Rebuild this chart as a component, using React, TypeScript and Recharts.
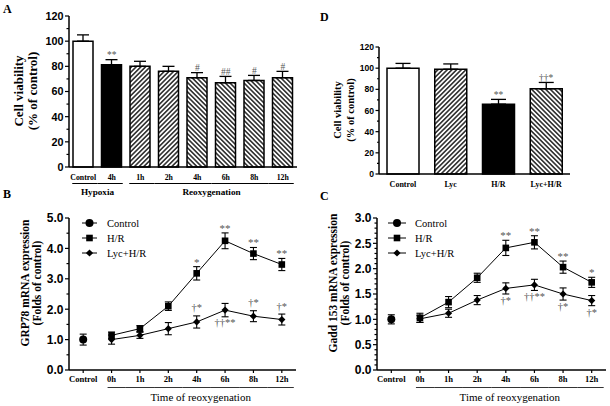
import React from 'react';
import { ComposedChart, Bar, Line, XAxis, YAxis, ErrorBar, Cell, LabelList } from 'recharts';

// ---------- Panel A data ----------
const aKeys = ['ctrl', 'hyp4h', 're1h', 're2h', 're4h', 're6h', 're8h', 're12h'];
const aTickLabels = ['Control', '4h', '1h', '2h', '4h', '6h', '8h', '12h'];
const aGroupOf = [0, 0, 1, 1, 1, 1, 1, 1];
const aGroupNames = ['Hypoxia', 'Reoxygenation'];
const aValues = [100, 81.3, 80, 76, 71, 67, 68.8, 71];
const aErrors = [5, 4, 4, 4, 4, 5, 4, 5];
const aMarks = ['', '**', '', '', '#', '##', '#', '#'];
const aMajorTicks = [0, 20, 40, 60, 80, 100, 120];
const aMinorTicks = [10, 30, 50, 70, 90, 110];

// ---------- Panel D data ----------
const dCategories = ['Control', 'Lyc', 'H/R', 'Lyc+H/R'];
const dValues = [100, 99, 66, 80.5];
const dErrors = [4.5, 5, 4.5, 6];
const dMarks = ['', '', '**', '††*'];
const dMajorTicks = [0, 20, 40, 60, 80, 100, 120];
const dMinorTicks = [10, 30, 50, 70, 90, 110];

// ---------- Panels B & C shared ----------
const timeCategories = ['Control', '0h', '1h', '2h', '4h', '6h', '8h', '12h'];
const timeGroupTitle = 'Time of reoxygenation';
const legendNames = ['Control', 'H/R', 'Lyc+H/R'];

// ---------- Panel B data (GRP78) ----------
const bControlValue = 1.0;
const bControlError = 0.18;
const bHR = [null, 1.14, 1.36, 2.1, 3.18, 4.25, 3.83, 3.47];
const bHRErr = [null, 0.11, 0.1, 0.14, 0.22, 0.26, 0.2, 0.2];
const bLyc = [null, 1.0, 1.14, 1.36, 1.58, 1.97, 1.77, 1.66];
const bLycErr = [null, 0.15, 0.1, 0.2, 0.2, 0.22, 0.18, 0.18];
const bHRMarks = ['', '', '', '', '*', '**', '**', '**'];
const bLycMarksAbove = ['', '', '', '', '†*', '', '†*', '†*'];
const bLycMarksBelow = ['', '', '', '', '', '††**', '', ''];
const bMajorTicks = [0, 1, 2, 3, 4, 5];
const bMinorTicks = [0.5, 1.5, 2.5, 3.5, 4.5];

// ---------- Panel C data (Gadd 153) ----------
const cControlValue = 1.0;
const cControlError = 0.09;
const cHR = [null, 1.03, 1.34, 1.82, 2.41, 2.52, 2.03, 1.73];
const cHRErr = [null, 0.09, 0.11, 0.09, 0.15, 0.13, 0.12, 0.1];
const cLyc = [null, 1.01, 1.12, 1.38, 1.61, 1.68, 1.5, 1.37];
const cLycErr = [null, 0.07, 0.08, 0.09, 0.11, 0.11, 0.12, 0.1];
const cHRMarks = ['', '', '', '', '**', '**', '**', '*'];
const cLycMarksAbove = ['', '', '', '', '', '', '', ''];
const cLycMarksBelow = ['', '', '', '', '†*', '††**', '†*', '†*'];
const cMajorTicks = [0, 0.5, 1, 1.5, 2, 2.5, 3];
const cMinorTicks = [0.1, 0.2, 0.3, 0.4, 0.6, 0.7, 0.8, 0.9, 1.1, 1.2, 1.3, 1.4, 1.6, 1.7, 1.8, 1.9, 2.1, 2.2, 2.3, 2.4, 2.6, 2.7, 2.8, 2.9];

// ---------- styles ----------
const SERIF = '"Liberation Serif","Times New Roman",serif';
const SANS = '"Liberation Sans",Arial,sans-serif';
const MARK_COLOR = '#555';
const aBarFills = ['#fff', '#000', 'url(#hatchUpA)', 'url(#hatchUpA)', 'url(#hatchDownA)', 'url(#hatchDownA)', 'url(#hatchDownA)', 'url(#hatchDownA)'];
const dBarFills = ['#fff', 'url(#hatchUpD)', '#000', 'url(#hatchDownD)'];
const axisLineStyle = { stroke: '#000', strokeWidth: 1.5 };

// ---------- rows ----------
const aRows = aKeys.map((k, i) => ({ key: k, value: aValues[i], err: [0, aErrors[i]], top: aValues[i] + aErrors[i], mark: aMarks[i] }));
const dRows = dCategories.map((k, i) => ({ key: k, value: dValues[i], err: [0, dErrors[i]], top: dValues[i] + dErrors[i], mark: dMarks[i] }));

function buildTimeRows(ctrl: number, ctrlErr: number, hr: (number | null)[], hrErr: (number | null)[], lyc: (number | null)[], lycErr: (number | null)[], hrMarks: string[], lycAbove: string[], lycBelow: string[]) {
  return timeCategories.map((c, i) => ({
    key: c,
    control: i === 0 ? ctrl : null,
    controlErr: i === 0 ? ctrlErr : null,
    hr: hr[i],
    hrErr: hrErr[i],
    hrTop: hr[i] == null ? null : (hr[i] as number) + (hrErr[i] as number),
    hrMark: hrMarks[i],
    lyc: lyc[i],
    lycErr: lycErr[i],
    lycTop: lyc[i] == null ? null : (lyc[i] as number) + (lycErr[i] as number),
    lycBottom: lyc[i] == null ? null : (lyc[i] as number) - (lycErr[i] as number),
    lycAbove: lycAbove[i],
    lycBelow: lycBelow[i],
  }));
}
const bRows = buildTimeRows(bControlValue, bControlError, bHR, bHRErr, bLyc, bLycErr, bHRMarks, bLycMarksAbove, bLycMarksBelow);
const cRows = buildTimeRows(cControlValue, cControlError, cHR, cHRErr, cLyc, cLycErr, cHRMarks, cLycMarksAbove, cLycMarksBelow);

// ---------- helpers ----------
function makeYTick(majors: number[], fmt: (v: number) => string, fs: number, majorLen: number, minorLen: number) {
  return (props: any) => {
    const { x, y, payload } = props;
    const v = payload.value;
    const major = majors.includes(v);
    const len = major ? majorLen : minorLen;
    return (
      <g>
        <line x1={x} x2={x - len} y1={y} y2={y} stroke="#000" strokeWidth={1.2} />
        {major && (
          <text x={x - majorLen - 1.5} y={y} dy="0.36em" textAnchor="end" fontFamily={SANS} fontWeight="bold" fontSize={fs} fill="#000">
            {fmt(v)}
          </text>
        )}
      </g>
    );
  };
}

function markLabel(fs: number, dy: number) {
  return (props: any) => {
    const { x, y, value, index } = props;
    if (!value || y == null || x == null) return null;
    return (
      <text key={index} x={x} y={y + dy} textAnchor="middle" fontFamily={SERIF} fontSize={fs} fill={MARK_COLOR}>
        {value}
      </text>
    );
  };
}

function hatch(id: string, angle: number, size: number, sw: number) {
  return (
    <pattern id={id} patternUnits="userSpaceOnUse" width={size} height={size} patternTransform={`rotate(${angle})`}>
      <rect width={size} height={size} fill="#fff" />
      <line x1={size / 2} y1={0} x2={size / 2} y2={size} stroke="#000" strokeWidth={sw} />
    </pattern>
  );
}

function drawMarker(kind: number, cx: number, cy: number, key?: any) {
  if (kind === 0) return <circle key={key} cx={cx} cy={cy} r={4} fill="#000" />;
  if (kind === 1) return <rect key={key} x={cx - 3.3} y={cy - 3.3} width={6.6} height={6.6} fill="#000" />;
  return <path key={key} d={`M${cx},${cy - 3.6}L${cx + 3.6},${cy}L${cx},${cy + 3.6}L${cx - 3.6},${cy}Z`} fill="#000" />;
}
function dotRenderer(kind: number) {
  return (props: any) => {
    const { cx, cy, index } = props;
    if (cx == null || cy == null || props.value == null) return <g key={`e${index}`} />;
    return drawMarker(kind, cx, cy, `d${index}`);
  };
}

// ---------- Panel A ----------
const A_W = 300, A_H = 200, A_YW = 69, A_R = 3;
const A_BAND = (A_W - A_YW - A_R) / aKeys.length;

function aXTick(props: any) {
  const { x, y, index } = props;
  const g = aGroupOf[index];
  const first = index === 0 || aGroupOf[index - 1] !== g;
  const last = index === aGroupOf.length - 1 || aGroupOf[index + 1] !== g;
  const half = A_BAND / 2;
  const x1 = first ? x - 11 : x - half;
  const x2 = last ? x + 11 : x + half;
  const count = aGroupOf.filter((v) => v === g).length;
  return (
    <g>
      <text x={x} y={y + 13} textAnchor="middle" fontFamily={SERIF} fontWeight="bold" fontSize={7.8} fill="#000">
        {aTickLabels[index]}
      </text>
      <line x1={x1} x2={x2} y1={y + 16.5} y2={y + 16.5} stroke="#000" strokeWidth={1} />
      {first && (
        <text x={x + ((count - 1) * A_BAND) / 2} y={y + 28} textAnchor="middle" fontFamily={SERIF} fontWeight="bold" fontSize={9.2} fill="#000">
          {aGroupNames[g]}
        </text>
      )}
    </g>
  );
}

function PanelA() {
  return (
    <ComposedChart width={A_W} height={A_H} data={aRows} margin={{ top: 16, right: A_R, bottom: 0, left: 0 }}>
      <defs>
        {hatch('hatchUpA', 45, 3.3, 1.3)}
        {hatch('hatchDownA', -45, 3.3, 1.3)}
      </defs>
      <XAxis dataKey="key" type="category" scale="band" interval={0} tickLine={false} tickSize={0} tickMargin={0} height={33} axisLine={axisLineStyle} tick={aXTick} />
      <YAxis type="number" domain={[0, 120]} ticks={[...aMajorTicks, ...aMinorTicks].sort((p, q) => p - q)} interval={0} tickLine={false} tickSize={0} tickMargin={0} width={A_YW} axisLine={axisLineStyle} tick={makeYTick(aMajorTicks, (v) => String(v), 10.8, 4, 2.5)} />
      <Bar dataKey="value" barSize={20} stroke="#000" strokeWidth={1.5} isAnimationActive={false}>
        {aRows.map((r, i) => (
          <Cell key={r.key} fill={aBarFills[i]} />
        ))}
        <ErrorBar dataKey="err" width={6} stroke="#000" strokeWidth={1.3} direction="y" />
      </Bar>
      <Line dataKey="top" stroke="none" dot={false} activeDot={false} isAnimationActive={false} legendType="none">
        <LabelList dataKey="mark" content={markLabel(9.5, -1.5)} />
      </Line>
    </ComposedChart>
  );
}

// ---------- Panel D ----------
function dXTick(props: any) {
  const { x, y, index } = props;
  return (
    <text x={x} y={y + 12.5} textAnchor="middle" fontFamily={SERIF} fontWeight="bold" fontSize={8} fill="#000">
      {dCategories[index]}
    </text>
  );
}

function PanelD() {
  return (
    <ComposedChart width={310} height={200} data={dRows} margin={{ top: 47, right: 40, bottom: 0, left: 0 }}>
      <defs>
        {hatch('hatchUpD', 45, 3.3, 1.3)}
        {hatch('hatchDownD', -45, 3.3, 1.3)}
      </defs>
      <XAxis dataKey="key" type="category" scale="band" interval={0} tickLine={false} tickSize={0} tickMargin={0} height={26} axisLine={axisLineStyle} tick={dXTick} />
      <YAxis type="number" domain={[0, 120]} ticks={[...dMajorTicks, ...dMinorTicks].sort((p, q) => p - q)} interval={0} tickLine={false} tickSize={0} tickMargin={0} width={79} axisLine={axisLineStyle} tick={makeYTick(dMajorTicks, (v) => String(v), 8.6, 3.5, 2)} />
      <Bar dataKey="value" barSize={32} stroke="#000" strokeWidth={1.5} isAnimationActive={false}>
        {dRows.map((r, i) => (
          <Cell key={r.key} fill={dBarFills[i]} />
        ))}
        <ErrorBar dataKey="err" width={7.5} stroke="#000" strokeWidth={1.3} direction="y" />
      </Bar>
      <Line dataKey="top" stroke="none" dot={false} activeDot={false} isAnimationActive={false} legendType="none">
        <LabelList dataKey="mark" content={markLabel(9.5, -1)} />
      </Line>
    </ComposedChart>
  );
}

// ---------- Panels B & C ----------
function makeTimeXTick(band: number) {
  return (props: any) => {
    const { x, y, index } = props;
    const n = timeCategories.length;
    const inGroup = index >= 1;
    const x1 = index === 1 ? x - 4 : x - band / 2;
    const x2 = index === n - 1 ? x + 12 : x + band / 2;
    const start = x - 4;
    const end = x + (n - 2) * band + 12;
    return (
      <g>
        <line x1={x} x2={x} y1={y} y2={y + 3} stroke="#000" strokeWidth={1.2} />
        <text x={x} y={y + 12} textAnchor="middle" fontFamily={SERIF} fontWeight="bold" fontSize={8.6} fill="#000">
          {timeCategories[index]}
        </text>
        {inGroup && <line x1={x1} x2={x2} y1={y + 17.5} y2={y + 17.5} stroke="#000" strokeWidth={0.8} />}
        {index === 1 && (
          <text x={(start + end) / 2} y={y + 31} textAnchor="middle" fontFamily={SERIF} fontSize={11} fill="#000">
            {timeGroupTitle}
          </text>
        )}
      </g>
    );
  };
}

function TimePanel(props: { rows: any[]; width: number; yWidth: number; right: number; domainMax: number; majors: number[]; minors: number[]; aboveDy: number; belowDy: number }) {
  const { rows, width, yWidth, right, domainMax, majors, minors, aboveDy, belowDy } = props;
  const band = (width - yWidth - right) / timeCategories.length;
  return (
    <ComposedChart width={width} height={206} data={rows} margin={{ top: 18, right, bottom: 0, left: 0 }}>
      <XAxis dataKey="key" type="category" scale="band" interval={0} tickLine={false} tickSize={0} tickMargin={0} height={36} axisLine={axisLineStyle} tick={makeTimeXTick(band)} />
      <YAxis type="number" domain={[0, domainMax]} ticks={[...majors, ...minors].sort((p, q) => p - q)} interval={0} tickLine={false} tickSize={0} tickMargin={0} width={yWidth} axisLine={axisLineStyle} tick={makeYTick(majors, (v) => v.toFixed(1), 12, 4, 2.5)} />
      <Line dataKey="control" stroke="#000" strokeWidth={1} dot={dotRenderer(0)} activeDot={false} isAnimationActive={false}>
        <ErrorBar dataKey="controlErr" width={3.5} stroke="#000" strokeWidth={1.1} direction="y" />
      </Line>
      <Line dataKey="hr" stroke="#000" strokeWidth={1} dot={dotRenderer(1)} activeDot={false} isAnimationActive={false}>
        <ErrorBar dataKey="hrErr" width={3.5} stroke="#000" strokeWidth={1.1} direction="y" />
      </Line>
      <Line dataKey="lyc" stroke="#000" strokeWidth={1} dot={dotRenderer(2)} activeDot={false} isAnimationActive={false}>
        <ErrorBar dataKey="lycErr" width={3.5} stroke="#000" strokeWidth={1.1} direction="y" />
      </Line>
      <Line dataKey="hrTop" stroke="none" dot={false} activeDot={false} isAnimationActive={false} legendType="none">
        <LabelList dataKey="hrMark" content={markLabel(11, -1)} />
      </Line>
      <Line dataKey="lycTop" stroke="none" dot={false} activeDot={false} isAnimationActive={false} legendType="none">
        <LabelList dataKey="lycAbove" content={markLabel(10.5, aboveDy)} />
      </Line>
      <Line dataKey="lycBottom" stroke="none" dot={false} activeDot={false} isAnimationActive={false} legendType="none">
        <LabelList dataKey="lycBelow" content={markLabel(10.5, belowDy)} />
      </Line>
    </ComposedChart>
  );
}

function LegendSvg(props: { left: number; top: number; lineLen: number; gap: number; rowGap: number }) {
  const { left, top, lineLen, gap, rowGap } = props;
  return (
    <svg style={{ position: 'absolute', left, top, overflow: 'visible' }} width={110} height={50}>
      {legendNames.map((n, i) => {
        const cy = 6 + i * rowGap;
        const cx = 1 + lineLen / 2;
        return (
          <g key={n}>
            <line x1={1} x2={1 + lineLen} y1={cy} y2={cy} stroke="#000" strokeWidth={1} />
            {drawMarker(i, cx, cy)}
            <text x={1 + lineLen + gap} y={cy} dy="0.35em" fontFamily={SERIF} fontSize={10.5} fill="#000">
              {n}
            </text>
          </g>
        );
      })}
    </svg>
  );
}

function YTitle(props: { x1: number; x2: number; cy: number; lines: string[]; fs: number }) {
  const { x1, x2, cy, lines, fs } = props;
  return (
    <g>
      {[x1, x2].map((x, i) => (
        <text key={i} x={x} y={cy} transform={`rotate(-90 ${x} ${cy})`} textAnchor="middle" dominantBaseline="central" fontFamily={SERIF} fontWeight="bold" fontSize={fs} fill="#000">
          {lines[i]}
        </text>
      ))}
    </g>
  );
}

export default function App() {
  return (
    <div style={{ position: 'absolute', left: 0, top: 0, width: 610, height: 406, background: '#fff', overflow: 'hidden' }}>
      <div style={{ position: 'absolute', left: 0, top: 0 }}>
        <PanelA />
      </div>
      <div style={{ position: 'absolute', left: 300, top: 0 }}>
        <PanelD />
      </div>
      <div style={{ position: 'absolute', left: 0, top: 200 }}>
        <TimePanel rows={bRows} width={300} yWidth={69} right={4} domainMax={5} majors={bMajorTicks} minors={bMinorTicks} aboveDy={-4.5} belowDy={9.5} />
      </div>
      <div style={{ position: 'absolute', left: 300, top: 200 }}>
        <TimePanel rows={cRows} width={310} yWidth={77} right={4} domainMax={3} majors={cMajorTicks} minors={cMinorTicks} aboveDy={-4.5} belowDy={10} />
      </div>
      <LegendSvg left={81} top={217} lineLen={15} gap={10} rowGap={15} />
      <LegendSvg left={387} top={217} lineLen={18} gap={9} rowGap={15} />
      <svg style={{ position: 'absolute', left: 0, top: 0, pointerEvents: 'none' }} width={610} height={406}>
        <text x={3} y={13} fontFamily={SERIF} fontWeight="bold" fontSize={12} fill="#000">A</text>
        <text x={320} y={21} fontFamily={SERIF} fontWeight="bold" fontSize={12} fill="#000">D</text>
        <text x={3} y={198} fontFamily={SERIF} fontWeight="bold" fontSize={12} fill="#000">B</text>
        <text x={320} y={200} fontFamily={SERIF} fontWeight="bold" fontSize={12} fill="#000">C</text>
        <YTitle x1={18} x2={32} cy={91} lines={['Cell viability', '(% of control)']} fs={13} />
        <YTitle x1={337} x2={350} cy={110} lines={['Cell viability', '(% of control)']} fs={10.5} />
        <YTitle x1={25} x2={37} cy={283} lines={['GRP78 mRNA expression', '(Folds of control)']} fs={11.5} />
        <YTitle x1={333} x2={345} cy={283} lines={['Gadd 153 mRNA expression', '(Folds of control)']} fs={11.5} />
      </svg>
    </div>
  );
}
